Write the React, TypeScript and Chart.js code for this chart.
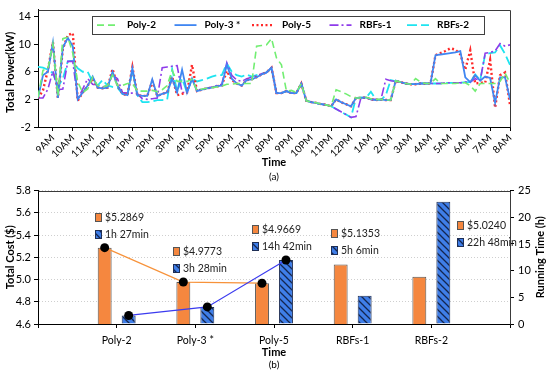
import React, { useEffect, useRef } from 'react';
import { Chart, registerables } from 'chart.js';
Chart.register(...registerables);

const FONT = 'Lato, "Liberation Sans", sans-serif';

// ---------- (a) Total power, 15-minute samples from 8:15AM to 8:00AM ----------
const hourLabels = ['9AM', '10AM', '11AM', '12PM', '1PM', '2PM', '3PM', '4PM', '5PM', '6PM', '7PM', '8PM',
  '9PM', '10PM', '11PM', '12PM', '1AM', '2AM', '3AM', '4AM', '5AM', '6AM', '7AM', '8AM'];
const powerTicks = [-2, 0, 2, 4, 6, 8, 10, 12, 14];

const poly2 = [
  2.3, 6.2, 6.5, 10.0, 2.5, 10.8, 11.0, 8.7, 4.5, 3.0, 3.5, 5.2,
  4.0, 3.8, 4.0, 5.5, 4.0, 4.0, 4.3, 4.3, 3.2, 3.2, 3.2, 3.3,
  3.1, 3.4, 4.0, 6.2, 4.6, 4.6, 4.6, 4.9, 3.3, 3.5, 3.6, 3.7,
  3.8, 3.9, 4.2, 4.2, 4.3, 4.3, 4.3, 4.3, 9.7, 9.8, 9.9, 10.8,
  8.0, 7.0, 3.2, 3.3, 3.0, 4.3, 1.8, 1.6, 1.5, 1.3, 1.2, 1.0,
  3.4, 3.1, 2.8, 2.4, 2.2, 2.2, 2.3, 2.1, 2.0, 2.0, 1.9, 1.9,
  4.7, 4.5, 4.3, 4.2, 5.0, 4.5, 4.3, 4.3, 5.0, 4.3, 4.3, 4.3,
  4.3, 4.4, 4.4, 4.0, 3.2, 4.3, 4.3, 4.3, 4.3, 4.6, 5.8, 4.4,
];
const poly3 = [
  2.2, 5.5, 6.0, 10.2, 2.2, 9.5, 10.9, 9.7, 2.0, 3.0, 4.0, 5.3,
  3.7, 3.6, 3.7, 6.0, 4.0, 2.8, 2.6, 6.5, 2.6, 2.5, 2.5, 4.9,
  2.5, 2.8, 3.0, 5.0, 3.0, 6.3, 3.0, 5.0, 3.2, 3.4, 3.6, 3.7,
  3.9, 4.0, 7.0, 5.0, 4.3, 4.0, 4.8, 4.9, 5.2, 5.6, 5.9, 6.6,
  2.9, 2.9, 3.2, 2.9, 2.9, 4.3, 1.8, 1.6, 1.5, 1.3, 1.2, 1.0,
  2.0, 1.6, 1.3, 1.0, 2.2, 2.2, 2.3, 2.0, 1.9, 2.0, 1.9, 1.9,
  4.7, 4.5, 4.3, 4.2, 4.2, 4.3, 4.3, 4.3, 8.4, 8.5, 8.6, 8.7,
  8.8, 9.0, 5.2, 4.5, 5.5, 4.7, 5.3, 5.1, 1.5, 5.2, 5.2, 2.0,
];
const poly5 = [
  2.2, 3.3, 6.3, 10.3, 2.2, 9.3, 11.3, 11.6, 1.8, 3.0, 4.0, 5.0,
  3.7, 3.6, 3.7, 6.4, 4.0, 2.8, 2.6, 6.7, 2.6, 2.5, 2.5, 4.6,
  2.5, 2.8, 3.0, 5.3, 2.6, 2.8, 3.0, 7.0, 3.2, 3.4, 3.6, 3.7,
  3.9, 4.0, 6.1, 4.8, 4.3, 4.0, 4.8, 4.9, 5.2, 5.6, 5.9, 6.6,
  2.9, 2.9, 3.2, 2.9, 2.9, 4.3, 1.8, 1.6, 1.5, 1.3, 1.2, 1.0,
  2.0, 1.6, 1.3, 1.0, 2.2, 2.2, 2.3, 2.0, 1.9, 2.0, 1.9, 1.9,
  4.7, 4.5, 4.3, 4.2, 4.2, 4.3, 4.3, 4.3, 8.4, 8.7, 9.0, 9.4,
  9.2, 8.5, 6.3, 9.1, 4.3, 4.4, 4.4, 7.7, 0.8, 5.5, 5.9, 1.2,
];
const rbfs1 = [
  2.2, 2.2, 3.5, 6.1, 3.4, 3.5, 7.5, 7.5, 2.0, 3.5, 5.0, 4.2,
  4.0, 3.8, 4.0, 5.5, 5.0, 3.0, 2.9, 2.9, 2.8, 2.1, 2.0, 2.1,
  2.2, 6.6, 6.7, 6.8, 6.9, 3.0, 3.0, 5.0, 3.3, 3.5, 3.6, 3.8,
  4.0, 4.2, 7.3, 5.5, 4.8, 4.6, 5.0, 5.2, 5.4, 5.7, 5.9, 6.6,
  2.9, 2.9, 3.2, 2.9, 2.9, 4.3, 1.8, 1.6, 1.4, 1.3, 1.2, 1.0,
  0.6, 0.2, -0.2, -0.6, -0.5, 2.2, 2.2, 2.0, 2.0, 1.9, 4.9, 4.7,
  4.6, 4.5, 4.3, 4.2, 4.2, 4.3, 4.3, 4.3, 4.3, 4.3, 4.4, 4.4,
  4.4, 4.4, 4.5, 4.5, 5.0, 4.7, 8.7, 8.8, 9.0, 10.1, 9.7, 9.9,
];
const rbfs2 = [
  6.7, 6.6, 6.3, 5.8, 3.8, 5.0, 7.5, 7.6, 6.5, 6.0, 6.0, 4.5,
  4.0, 4.8, 4.0, 3.8, 3.7, 2.8, 2.6, 6.2, 2.6, 1.6, 1.6, 1.7,
  1.9, 1.9, 2.0, 6.4, 3.2, 5.0, 3.0, 5.0, 4.6, 4.8, 5.0, 5.3,
  5.5, 5.5, 7.2, 6.0, 5.5, 5.3, 5.6, 5.3, 5.5, 5.7, 5.9, 6.5,
  2.9, 2.9, 3.2, 2.9, 2.9, 4.3, 1.8, 1.6, 1.4, 1.3, 1.2, 1.0,
  0.6, 0.2, -0.2, -0.6, 2.2, 2.3, 2.2, 3.1, 2.0, 1.9, 2.6, 4.8,
  4.6, 4.5, 4.3, 4.2, 4.2, 4.3, 4.3, 4.3, 4.3, 4.3, 4.4, 4.4,
  4.4, 4.4, 4.5, 4.5, 5.6, 4.8, 8.5, 8.7, 8.8, 9.8, 8.6, 7.0,
];
const seriesNames = ['Poly-2', 'Poly-3 *', 'Poly-5', 'RBFs-1', 'RBFs-2'];
const seriesValues = [poly2, poly3, poly5, rbfs1, rbfs2];

// ---------- (b) Cost and running time ----------
const methods = ['Poly-2', 'Poly-3 *', 'Poly-5', 'RBFs-1', 'RBFs-2'];
const totalCost = [5.2869, 4.9773, 4.9669, 5.1353, 5.0240];
const runningTime = [1.6, 3.2, 12.0, 5.3, 22.9];
const costText = ['$5.2869', '$4.9773', '$4.9669', '$5.1353', '$5.0240'];
const timeText = ['1h 27min', '3h 28min', '14h 42min', '5h 6min', '22h 48min'];
const trendCount = 3;
const costTicks = [4.6, 4.8, 5.0, 5.2, 5.4, 5.6, 5.8];
const timeTicks = [0, 5, 10, 15, 20, 25];

// ---------- styles ----------
const lineStyles = [
  { color: '#72EE72', dash: [7, 4], width: 1.6 },
  { color: '#3F86F2', dash: [], width: 1.8 },
  { color: '#FF2A2A', dash: [2, 2.5], width: 2.4 },
  { color: '#8E3BEA', dash: [9, 3, 2, 3], width: 1.6 },
  { color: '#1EE4F0', dash: [10, 4], width: 1.8 },
];
const ORANGE = '#F5873F';
const BLUE = '#3F7EE8';

function makeHatch(): CanvasPattern | string {
  const c = document.createElement('canvas');
  c.width = 7; c.height = 7;
  const g = c.getContext('2d');
  if (!g) return BLUE;
  g.fillStyle = BLUE; g.fillRect(0, 0, 7, 7);
  g.strokeStyle = '#14264F'; g.lineWidth = 1.3;
  g.beginPath();
  g.moveTo(-1, -1); g.lineTo(8, 8);
  g.moveTo(-1, 6); g.lineTo(1, 8);
  g.moveTo(6, -1); g.lineTo(8, 1);
  g.stroke();
  return g.createPattern(c, 'repeat') || BLUE;
}

const tickFont = { family: FONT, size: 10 };
const yTickFont = { family: FONT, size: 11 };

function frame(ctx: CanvasRenderingContext2D, ca: any, color: string) {
  ctx.save();
  ctx.strokeStyle = color; ctx.lineWidth = 1;
  ctx.beginPath();
  ctx.moveTo(Math.round(ca.left) + 0.5, Math.round(ca.top) + 0.5);
  ctx.lineTo(Math.round(ca.right) + 0.5, Math.round(ca.top) + 0.5);
  ctx.lineTo(Math.round(ca.right) + 0.5, Math.round(ca.bottom) + 0.5);
  ctx.stroke();
  ctx.restore();
}

const topPlugin = {
  id: 'topDeco',
  afterDraw(chart: any) {
    const ctx: CanvasRenderingContext2D = chart.ctx;
    const ca = chart.chartArea;
    frame(ctx, ca, '#3a3a3a');
    ctx.save();
    const lx = ca.left + 54, ly = ca.top + 6, lw = 392, lh = 18;
    ctx.fillStyle = '#fff';
    ctx.fillRect(lx, ly, lw, lh);
    ctx.strokeStyle = '#404040'; ctx.lineWidth = 1;
    ctx.strokeRect(Math.round(lx) + 0.5, Math.round(ly) + 0.5, lw, lh);
    seriesNames.forEach((name, i) => {
      const st = lineStyles[i];
      const sx = lx + 5 + i * 77.5;
      const y = ly + lh / 2 + 0.5;
      ctx.strokeStyle = st.color; ctx.lineWidth = st.width; ctx.setLineDash(st.dash);
      ctx.beginPath(); ctx.moveTo(sx, y); ctx.lineTo(sx + 22, y); ctx.stroke();
      ctx.setLineDash([]);
      ctx.fillStyle = '#000';
      ctx.font = `bold 10px ${FONT}`;
      ctx.textAlign = 'left'; ctx.textBaseline = 'middle';
      ctx.fillText(name, sx + 30, y);
    });
    ctx.fillStyle = '#000';
    ctx.font = `bold 11px ${FONT}`;
    ctx.textAlign = 'center'; ctx.textBaseline = 'middle';
    const cx = (ca.left + ca.right) / 2;
    ctx.fillText('Time', cx, ca.bottom + 35);
    ctx.font = `10px ${FONT}`;
    ctx.fillText('(a)', cx, ca.bottom + 50);
    ctx.translate(10, (ca.top + ca.bottom) / 2 + 4);
    ctx.rotate(-Math.PI / 2);
    ctx.font = `bold 11px ${FONT}`;
    ctx.fillText('Total Power(kW)', 0, 0);
    ctx.restore();
  },
};

const botPlugin = {
  id: 'botDeco',
  afterDatasetsDraw(chart: any) {
    const ctx: CanvasRenderingContext2D = chart.ctx;
    const ca = chart.chartArea;
    const m0 = chart.getDatasetMeta(0).data;
    const m1 = chart.getDatasetMeta(1).data;
    ctx.save();
    const trend = (els: any[], color: string) => {
      ctx.strokeStyle = color; ctx.lineWidth = 1.2;
      ctx.beginPath();
      for (let k = 0; k < trendCount; k++) {
        const el = els[k + 1];
        if (k === 0) ctx.moveTo(el.x, el.y); else ctx.lineTo(el.x, el.y);
      }
      ctx.stroke();
    };
    trend(m0, '#F7923A');
    trend(m1, '#3B3BEF');
    ctx.fillStyle = '#000';
    for (let k = 0; k < trendCount; k++) {
      [m0[k + 1], m1[k + 1]].forEach((el: any) => {
        ctx.beginPath(); ctx.arc(el.x, el.y, 4.5, 0, Math.PI * 2); ctx.fill();
      });
    }
    const hatch = (chart as any).$hatch;
    methods.forEach((_, k) => {
      const ob: any = m0[k + 1];
      const bb: any = m1[k + 1];
      const topY = Math.min(ob.y, bb.y);
      let x: number, y1: number;
      if (topY - 31 < ca.top + 20) {
        x = bb.x + bb.width / 2 + 7;
        y1 = ca.top + 34;
      } else {
        x = ob.x - ob.width / 2 - 3;
        y1 = topY - 31;
      }
      x = Math.round(x); y1 = Math.round(y1);
      const y2 = y1 + 17;
      ctx.lineWidth = 1;
      ctx.fillStyle = ORANGE; ctx.fillRect(x, y1 - 4, 6, 8);
      ctx.strokeStyle = '#555'; ctx.strokeRect(x + 0.5, y1 - 4 + 0.5, 6, 8);
      ctx.fillStyle = hatch; ctx.fillRect(x, y2 - 4, 6, 8);
      ctx.strokeStyle = '#1f2f55'; ctx.strokeRect(x + 0.5, y2 - 4 + 0.5, 6, 8);
      ctx.fillStyle = '#222';
      ctx.font = `10.5px ${FONT}`;
      ctx.textAlign = 'left'; ctx.textBaseline = 'middle';
      ctx.fillText(costText[k], x + 10, y1 + 0.5);
      ctx.fillText(timeText[k], x + 10, y2 + 0.5);
    });
    ctx.restore();
  },
  afterDraw(chart: any) {
    const ctx: CanvasRenderingContext2D = chart.ctx;
    const ca = chart.chartArea;
    frame(ctx, ca, '#3a3a3a');
    ctx.save();
    ctx.fillStyle = '#000';
    ctx.textAlign = 'center'; ctx.textBaseline = 'middle';
    const cx = (ca.left + ca.right) / 2;
    ctx.font = `bold 11px ${FONT}`;
    ctx.fillText('Time', cx, ca.bottom + 28);
    ctx.font = `10px ${FONT}`;
    ctx.fillText('(b)', cx, ca.bottom + 41);
    const cy = (ca.top + ca.bottom) / 2;
    ctx.font = `bold 11px ${FONT}`;
    ctx.save();
    ctx.translate(10, cy); ctx.rotate(-Math.PI / 2);
    ctx.fillText('Total Cost ($)', 0, 0);
    ctx.restore();
    ctx.save();
    ctx.translate(540, cy); ctx.rotate(-Math.PI / 2);
    ctx.fillText('Running Time (h)', 0, 0);
    ctx.restore();
    ctx.restore();
  },
};

function topConfig(): any {
  return {
    type: 'line',
    data: {
      datasets: seriesValues.map((vals, i) => ({
        label: seriesNames[i],
        data: vals.map((v, k) => ({ x: k, y: v })),
        borderColor: lineStyles[i].color,
        borderDash: lineStyles[i].dash,
        borderWidth: lineStyles[i].width,
        pointRadius: 0,
        tension: 0,
        fill: false,
      })),
    },
    options: {
      animation: false,
      responsive: false,
      layout: { padding: { left: 0, right: 40, top: 4, bottom: 0 } },
      plugins: { legend: { display: false }, tooltip: { enabled: false } },
      scales: {
        x: {
          type: 'linear', min: 0, max: seriesValues[0].length - 1,
          afterBuildTicks: (s: any) => { s.ticks = hourLabels.map((_, k) => ({ value: 3 + 4 * k })); },
          afterFit: (s: any) => { s.height = 63; },
          ticks: {
            autoSkip: false, minRotation: 45, maxRotation: 45, padding: 1,
            color: '#000', font: tickFont,
            callback: (v: any) => hourLabels[Math.round((Number(v) - 3) / 4)],
          },
          grid: { drawOnChartArea: false, tickLength: 4, color: '#000' },
          border: { color: '#000' },
        },
        y: {
          min: -2, max: 15,
          afterBuildTicks: (s: any) => { s.ticks = powerTicks.map((v) => ({ value: v })); },
          afterFit: (s: any) => { s.width = 38; },
          ticks: { color: '#000', font: yTickFont, padding: 3 },
          grid: { drawOnChartArea: false, tickLength: 4, color: '#000' },
          border: { color: '#000' },
        },
      },
    },
    plugins: [topPlugin],
  };
}

function botConfig(): any {
  const labels = ['', ...methods, ''];
  const pad = (arr: number[]) => [null, ...arr, null];
  return {
    type: 'bar',
    data: {
      labels,
      datasets: [
        {
          label: 'Total Cost', data: pad(totalCost), yAxisID: 'yCost',
          backgroundColor: ORANGE, borderColor: '#555', borderWidth: 1,
          categoryPercentage: 0.61, barPercentage: 0.58,
        },
        {
          label: 'Running Time', data: pad(runningTime), yAxisID: 'yTime',
          backgroundColor: BLUE, borderColor: '#1f2f55', borderWidth: 1,
          categoryPercentage: 0.61, barPercentage: 0.58,
        },
      ],
    },
    options: {
      animation: false,
      responsive: false,
      layout: { padding: { left: 0, right: 0, top: 7, bottom: 0 } },
      plugins: { legend: { display: false }, tooltip: { enabled: false } },
      scales: {
        x: {
          offset: false,
          afterFit: (s: any) => { s.height = 50; },
          ticks: { color: '#000', font: { family: FONT, size: 10.5 }, padding: 6, autoSkip: false, maxRotation: 0 },
          grid: { offset: false, drawOnChartArea: false, tickLength: 4, color: '#000' },
          border: { color: '#000' },
        },
        yCost: {
          position: 'left', min: 4.6, max: 5.8,
          afterBuildTicks: (s: any) => { s.ticks = costTicks.map((v) => ({ value: v })); },
          afterFit: (s: any) => { s.width = 38; },
          ticks: { color: '#000', font: yTickFont, padding: 3, callback: (v: any) => Number(v).toFixed(1) },
          grid: { color: '#cfcfcf', tickColor: '#000', tickLength: 4 },
          border: { color: '#000', dash: [1, 2] },
        },
        yTime: {
          position: 'right', min: 0, max: 25,
          afterBuildTicks: (s: any) => { s.ticks = timeTicks.map((v) => ({ value: v })); },
          afterFit: (s: any) => { s.width = 40; },
          ticks: { color: '#000', font: yTickFont, padding: 4 },
          grid: { drawOnChartArea: false, tickLength: 4, color: '#000' },
          border: { color: '#000' },
        },
      },
    },
    plugins: [botPlugin],
  };
}

export default function App() {
  const topRef = useRef<HTMLCanvasElement>(null);
  const botRef = useRef<HTMLCanvasElement>(null);
  useEffect(() => {
    const top = new Chart(topRef.current as HTMLCanvasElement, topConfig());
    const cfg = botConfig();
    const hatch = makeHatch();
    cfg.data.datasets[1].backgroundColor = hatch;
    const bot: any = new Chart(botRef.current as HTMLCanvasElement, cfg);
    bot.$hatch = hatch;
    bot.update();
    return () => { top.destroy(); bot.destroy(); };
  }, []);
  return (
    <div style={{ position: 'fixed', left: 0, top: 0, width: 550, height: 374, background: '#fff' }}>
      <canvas ref={topRef} width={550} height={190} style={{ position: 'absolute', left: 0, top: 0 }} />
      <canvas ref={botRef} width={550} height={194} style={{ position: 'absolute', left: 0, top: 180 }} />
    </div>
  );
}
